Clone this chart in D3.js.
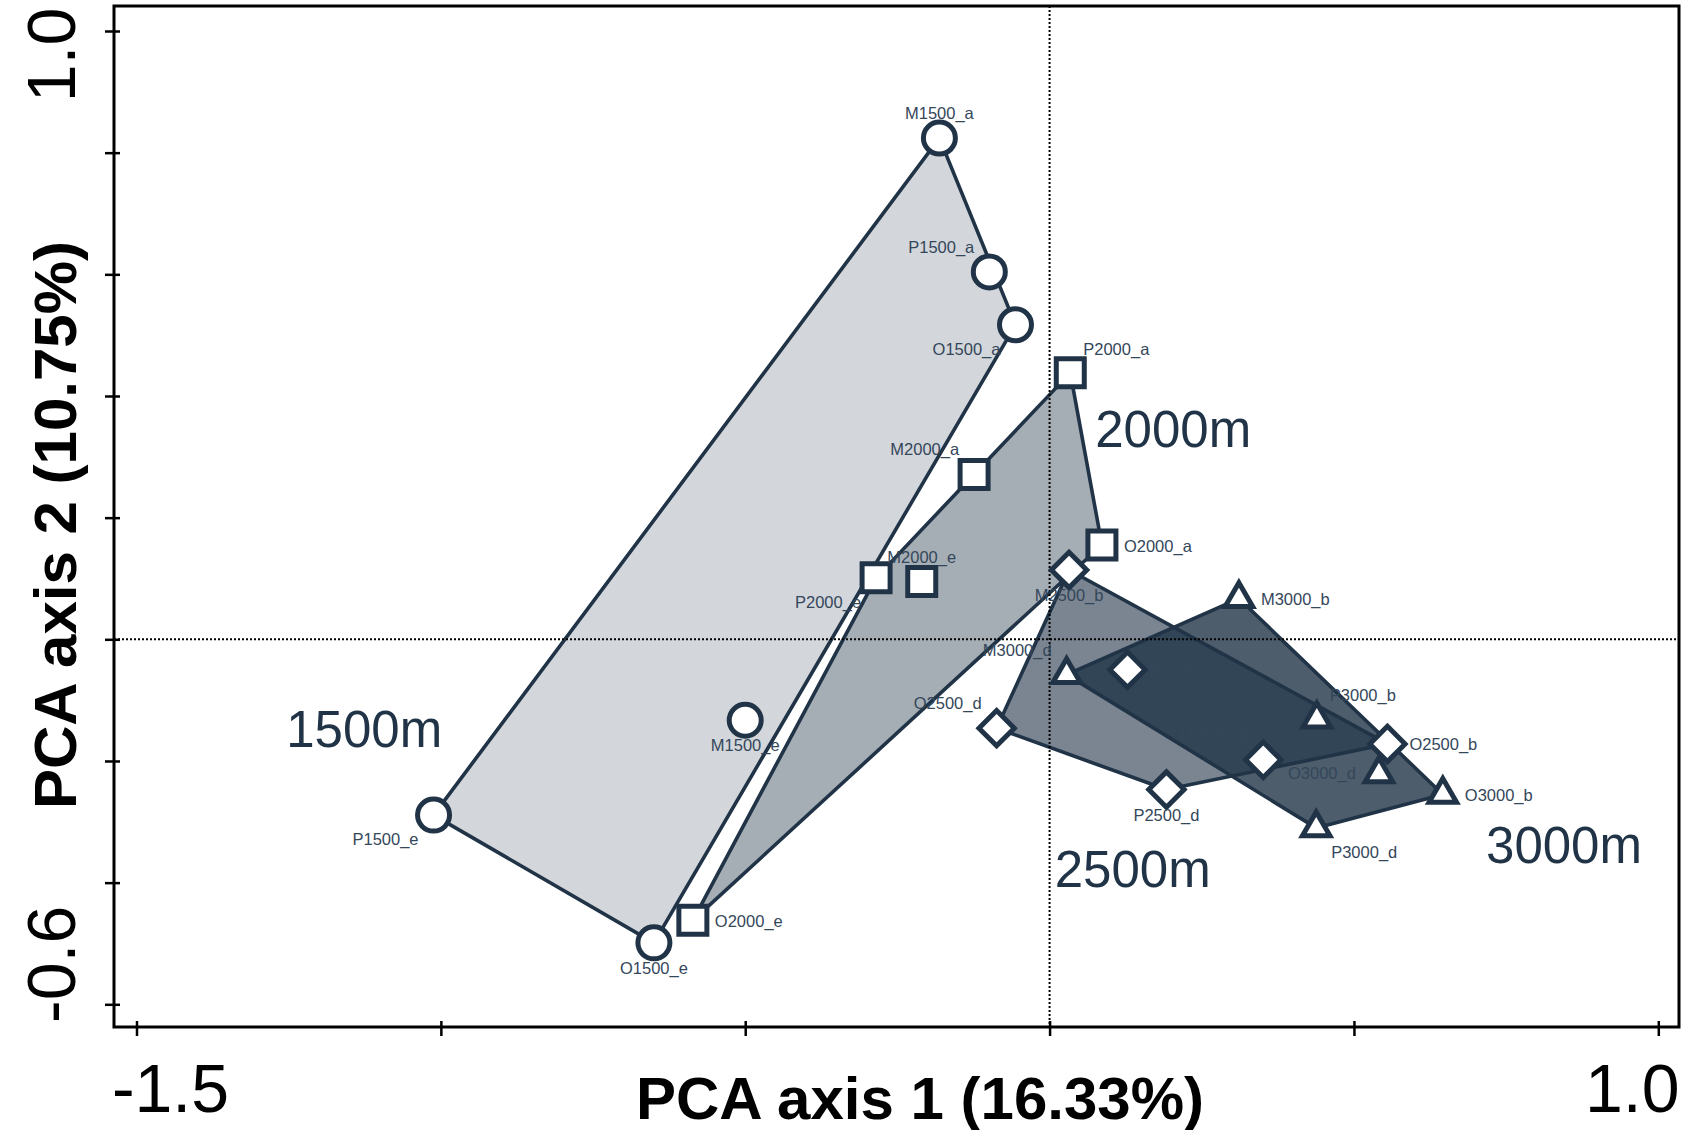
<!DOCTYPE html>
<html>
<head>
<meta charset="utf-8">
<script src="https://cdn.jsdelivr.net/npm/d3@7"></script>
<style>
  html, body { margin: 0; padding: 0; background: #ffffff; }
  svg { display: block; }
  text { font-family: "Liberation Sans", Arial, Helvetica, sans-serif; }
</style>
</head>
<body>
<svg id="chart" width="1683" height="1130"></svg>
<script>
// ---------------- data ----------------
const samples = [
  'M1500_a','P1500_a','O1500_a','M1500_e','P1500_e','O1500_e',
  'P2000_a','M2000_a','O2000_a','P2000_e','M2000_e','O2000_e',
  'M2500_b','P2500_b','O2500_b','M2500_d','P2500_d','O2500_d',
  'M3000_b','M3000_d','P3000_b','O3000_d','O3000_b','P3000_d'
];
const axis1 = [
  -0.181, -0.099, -0.056, -0.500, -1.012, -0.650,
   0.034, -0.124,  0.086, -0.285, -0.210, -0.586,
   0.032,  0.128,  0.555,  0.351,  0.192, -0.087,
   0.311,  0.028,  0.439,  0.541,  0.646,  0.438
];
const axis2 = [
   0.824,  0.604,  0.517, -0.133, -0.289, -0.499,
   0.438,  0.271,  0.155,  0.101,  0.095, -0.462,
   0.114, -0.050, -0.172, -0.198, -0.247, -0.146,
   0.067, -0.058, -0.131, -0.221, -0.255, -0.310
];
const elevation = [
  '1500m','1500m','1500m','1500m','1500m','1500m',
  '2000m','2000m','2000m','2000m','2000m','2000m',
  '2500m','2500m','2500m','2500m','2500m','2500m',
  '3000m','3000m','3000m','3000m','3000m','3000m'
];
// side of the point where each sample name is written
const labelSide = [
  'N','NW','SW','S','SW','S',
  'NE','NW','E','SW','N','E',
  'S','E','E','NW','S','NW',
  'E','NW','NE','W','E','SE'
];
const groups = ['1500m','2000m','2500m','3000m'];
const groupLabelX = [-1.254, 0.075, 0.0085, 0.717];
const groupLabelY = [-0.1766, 0.3156, -0.4077, -0.3682];

const xTicks = [-1.5, -1.0, -0.5, 0.0, 0.5, 1.0];
const yTicks = [-0.6, -0.4, -0.2, 0.0, 0.2, 0.4, 0.6, 0.8, 1.0];
const xTickLabels = ['-1.5', '1.0'];
const yTickLabels = ['-0.6', '1.0'];
const xTitle = 'PCA axis 1 (16.33%)';
const yTitle = 'PCA axis 2 (10.75%)';

// ---------------- styles ----------------
const ink = '#213447';
const groupAlpha = {'1500m': 0.2, '2000m': 0.4, '2500m': 0.6, '3000m': 0.8};
const groupShape = {'1500m': 'circle', '2000m': 'square', '2500m': 'diamond', '3000m': 'triangle'};

// ---------------- layout ----------------
const frame = {left: 114, top: 6, right: 1679, bottom: 1027};
const x = d3.scaleLinear().domain([-1.5, 1.0]).range([136.5, 1658.3]);
const y = d3.scaleLinear().domain([-0.6, 1.0]).range([1004.3, 31]);

const svg = d3.select('#chart');

const pts = samples.map((s, i) => ({
  name: s, px: x(axis1[i]), py: y(axis2[i]), group: elevation[i], side: labelSide[i]
}));

// hull polygons
const gPoly = svg.append('g');
groups.forEach(gname => {
  const gp = pts.filter(p => p.group === gname).map(p => [p.px, p.py]);
  const hull = d3.polygonHull(gp);
  gPoly.append('path')
    .attr('d', 'M' + hull.map(p => p.join(',')).join('L') + 'Z')
    .attr('fill', ink)
    .attr('fill-opacity', groupAlpha[gname])
    .attr('stroke', 'none');
});
groups.forEach(gname => {
  const gp = pts.filter(p => p.group === gname).map(p => [p.px, p.py]);
  const hull = d3.polygonHull(gp);
  gPoly.append('path')
    .attr('d', 'M' + hull.map(p => p.join(',')).join('L') + 'Z')
    .attr('fill', 'none')
    .attr('stroke', ink)
    .attr('stroke-width', 3.6)
    .attr('stroke-linejoin', 'round');
});

// dotted zero lines
svg.append('line')
  .attr('x1', x(0)).attr('x2', x(0))
  .attr('y1', frame.top).attr('y2', frame.bottom)
  .attr('stroke', '#000').attr('stroke-width', 2).attr('stroke-dasharray', '2,2');
svg.append('line')
  .attr('x1', frame.left).attr('x2', frame.right)
  .attr('y1', y(0)).attr('y2', y(0))
  .attr('stroke', '#000').attr('stroke-width', 2).attr('stroke-dasharray', '2,2');

// markers
const sym = {
  circle: d3.symbol().type(d3.symbolCircle).size(Math.PI * 16 * 16),
  square: d3.symbol().type(d3.symbolSquare).size(28 * 28),
  diamond: d3.symbol().type(d3.symbolSquare).size(25 * 25),
  triangle: d3.symbol().type(d3.symbolTriangle).size(0.433 * 27.5 * 27.5)
};
svg.append('g').selectAll('path').data(pts).join('path')
  .attr('d', d => sym[groupShape[d.group]]())
  .attr('transform', d => `translate(${d.px},${d.py})` + (groupShape[d.group] === 'diamond' ? ' rotate(45)' : ''))
  .attr('fill', '#ffffff')
  .attr('stroke', ink)
  .attr('stroke-width', 5)
  .attr('stroke-linejoin', 'miter');

// sample labels
const off = {
  N:  {dx: 0,   dy: -19, a: 'middle'},
  S:  {dx: 0,   dy: 31,  a: 'middle'},
  E:  {dx: 22,  dy: 6.5, a: 'start'},
  W:  {dx: -23, dy: 5,   a: 'end'},
  NE: {dx: 13,  dy: -18, a: 'start'},
  NW: {dx: -15, dy: -19, a: 'end'},
  SE: {dx: 15,  dy: 30,  a: 'start'},
  SW: {dx: -15, dy: 30,  a: 'end'}
};
svg.append('g').selectAll('text').data(pts).join('text')
  .attr('x', d => d.px + off[d.side].dx)
  .attr('y', d => d.py + off[d.side].dy)
  .attr('text-anchor', d => off[d.side].a)
  .attr('font-size', 16.5)
  .attr('fill', '#34475a')
  .text(d => d.name);

// group labels
svg.append('g').selectAll('text').data(groups).join('text')
  .attr('x', (d, i) => x(groupLabelX[i]))
  .attr('y', (d, i) => y(groupLabelY[i]))
  .attr('font-size', 51)
  .attr('fill', ink)
  .text(d => d);

// frame
svg.append('rect')
  .attr('x', frame.left).attr('y', frame.top)
  .attr('width', frame.right - frame.left).attr('height', frame.bottom - frame.top)
  .attr('fill', 'none').attr('stroke', '#000').attr('stroke-width', 3);

// axes ticks (crossing the frame)
const gx = svg.append('g')
  .attr('transform', `translate(0,${frame.bottom - 6})`)
  .call(d3.axisBottom(x).tickValues(xTicks).tickSize(15).tickFormat(''));
gx.select('.domain').remove();
gx.selectAll('line').attr('stroke', '#000').attr('stroke-width', 2.5);

const gy = svg.append('g')
  .attr('transform', `translate(${frame.left + 6},0)`)
  .call(d3.axisLeft(y).tickValues(yTicks).tickSize(15).tickFormat(''));
gy.select('.domain').remove();
gy.selectAll('line').attr('stroke', '#000').attr('stroke-width', 2.5);

// tick labels (only the end values are labelled)
svg.append('text')
  .attr('x', x(-1.5) + 34).attr('y', 1112)
  .attr('text-anchor', 'middle').attr('font-size', 68).attr('fill', '#000')
  .text(xTickLabels[0]);
svg.append('text')
  .attr('x', x(1.0) - 26).attr('y', 1112)
  .attr('text-anchor', 'middle').attr('font-size', 68).attr('fill', '#000')
  .text(xTickLabels[1]);
svg.append('text')
  .attr('transform', `translate(75,${y(-0.6) - 40}) rotate(-90)`)
  .attr('text-anchor', 'middle').attr('font-size', 68).attr('fill', '#000')
  .text(yTickLabels[0]);
svg.append('text')
  .attr('transform', `translate(75,${y(1.0) + 24}) rotate(-90)`)
  .attr('text-anchor', 'middle').attr('font-size', 68).attr('fill', '#000')
  .text(yTickLabels[1]);

// axis titles
svg.append('text')
  .attr('x', 920).attr('y', 1119)
  .attr('text-anchor', 'middle').attr('font-size', 60).attr('font-weight', 'bold').attr('fill', '#000')
  .text(xTitle);
svg.append('text')
  .attr('transform', `translate(76,525) rotate(-90)`)
  .attr('text-anchor', 'middle').attr('font-size', 60).attr('font-weight', 'bold').attr('fill', '#000')
  .text(yTitle);
</script>
</body>
</html>
